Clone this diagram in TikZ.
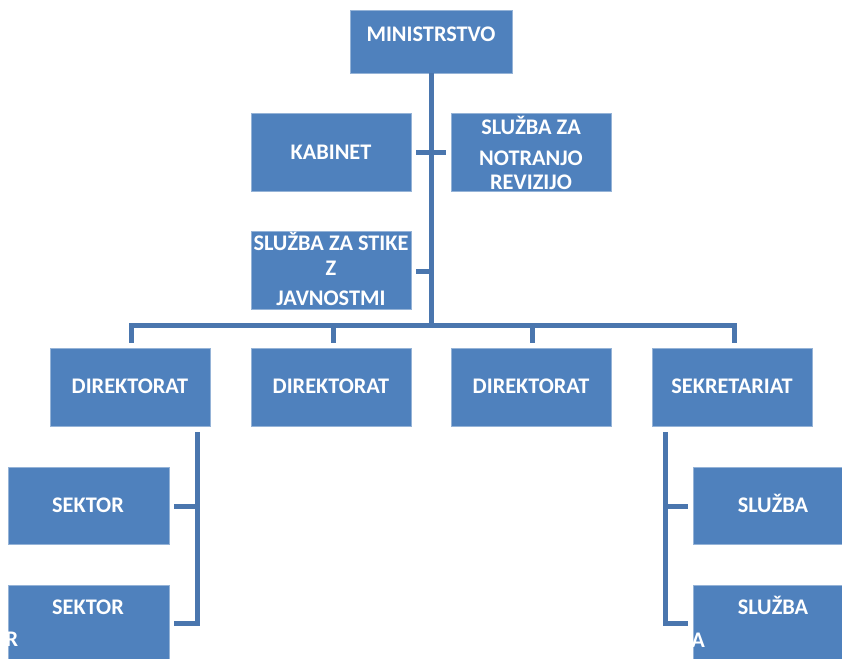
\documentclass[tikz,border=0pt]{standalone}
\usepackage{fontspec}
\setmainfont{Carlito}
\usetikzlibrary{calc}
\definecolor{boxblue}{HTML}{4F81BD}
\definecolor{lineblue}{HTML}{4A76AE}
\begin{document}
\begin{tikzpicture}[x=1pt,y=-1pt,
  box/.style={fill=boxblue, draw=boxblue!60!white, line width=0.6pt},
  txt/.style={text=white, font=\fontsize{22.3}{26}\selectfont\bfseries, inner sep=0pt, text height=14.4pt, text depth=0pt},
  conn/.style={draw=lineblue, line width=5pt}]
\useasboundingbox (0,0) rectangle (842,658);
\clip (0,0) rectangle (842,658);
% boxes
\path[box] (350,10) rectangle (512,73);
\node (min) at (431,41.5) [minimum width=162pt, minimum height=63pt, inner sep=0pt] {};
\node[txt] (minT) at (431,34) {MINISTRSTVO};

\path[box] (251,113) rectangle (411,191);
\node (kab) at (331,152) [minimum width=160pt, minimum height=78pt, inner sep=0pt] {};
\node[txt] (kabT) at (331,152) {KABINET};

\path[box] (451,113) rectangle (611,191);
\node (rev) at (531,152) [minimum width=160pt, minimum height=78pt, inner sep=0pt] {};
\node[txt] (revT1) at (531,127) {SLUŽBA ZA};
\node[txt] (revT2) at (531,158) {NOTRANJO};
\node[txt] (revT3) at (531,182) {REVIZIJO};

\path[box] (251,231) rectangle (411,309);
\node (sti) at (331,270) [minimum width=160pt, minimum height=78pt, inner sep=0pt] {};
\node[txt] (stiT1) at (331,243) {SLUŽBA ZA STIKE};
\node[txt] (stiT2) at (331,268) {Z};
\node[txt] (stiT3) at (331,298) {JAVNOSTMI};

\foreach \n/\x/\t in {d1/50/DIREKTORAT, d2/251/DIREKTORAT, d3/451/DIREKTORAT, sek/652/SEKRETARIAT}{
  \path[box] (\x,348) rectangle ++(160,78);
  \node (\n) at ($(\x,387)+(80,0)$) [minimum width=160pt, minimum height=78pt, inner sep=0pt] {};
  \node[txt] (\n T) at ($(\x,386)+(80,0)$) {\t};
}

\path[box] (8,467) rectangle (169,544);
\node (s1) at (88.5,505.5) [minimum width=161pt, minimum height=77pt, inner sep=0pt] {};
\node[txt] (s1T) at (88,505) {SEKTOR};
\path[box] (8,585) rectangle (169,662);
\node (s2) at (88.5,623.5) [minimum width=161pt, minimum height=77pt, inner sep=0pt] {};
\node[txt] (s2T) at (88,607) {SEKTOR};
\node[txt] (rT) at (12,639) {R};

\path[box] (693,467) rectangle (853,544);
\node (sl1) at (773,505.5) [minimum width=160pt, minimum height=77pt, inner sep=0pt] {};
\node[txt] (sl1T) at (773,505) {SLUŽBA};
\path[box] (693,585) rectangle (853,662);
\node (sl2) at (773,623.5) [minimum width=160pt, minimum height=77pt, inner sep=0pt] {};
\node[txt] (sl2T) at (773,607) {SLUŽBA};
\node[txt] (aT) at (698,640) {A};

% connectors
\coordinate (bus) at (431,325);
\draw[conn] (min.south) -- (bus);
\draw[conn] (416,152) -- (446,152);
\draw[conn] (416,271) -- (431,271);
\draw[conn] (131,325) -- (734,325);
\draw[conn] (131,323) -- (131,343);
\draw[conn] (333,325) -- (333,343);
\draw[conn] (532,325) -- (532,343);
\draw[conn] (734,323) -- (734,343);
% left bracket
\draw[conn] (197,432) -- (197,623) -- (174,623);
\draw[conn] (197,506) -- (174,506);
% right bracket
\draw[conn] (665,432) -- (665,623) -- (688,623);
\draw[conn] (665,506) -- (688,506);
\end{tikzpicture}
\end{document}
